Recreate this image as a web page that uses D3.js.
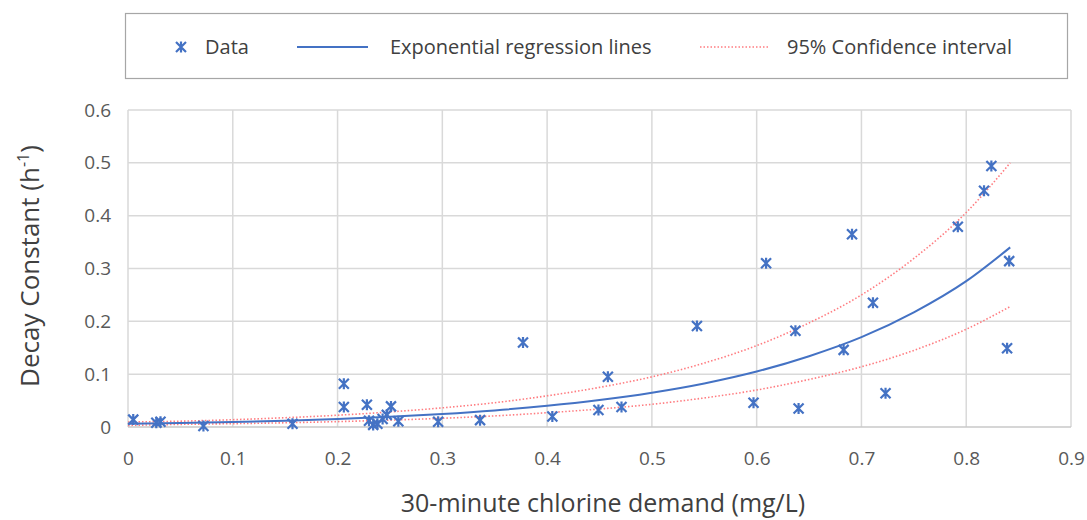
<!DOCTYPE html>
<html lang="en">
<head>
<meta charset="utf-8">
<title>Decay constant vs chlorine demand</title>
<script src="https://cdn.jsdelivr.net/npm/d3@7"></script>
<style>
  body { margin: 0; background: #ffffff; font-family: "Open Sans", sans-serif; }
  svg text { font-family: "Open Sans", sans-serif; }
</style>
</head>
<body>
<script>
// measured data (x = 30-minute chlorine demand, y = decay constant)
var demand = [0.005, 0.027, 0.031, 0.072, 0.157, 0.206, 0.206, 0.228, 0.230, 0.234, 0.238,
              0.243, 0.247, 0.251, 0.258, 0.296, 0.336, 0.377, 0.405, 0.449, 0.458, 0.471,
              0.543, 0.597, 0.609, 0.637, 0.640, 0.683, 0.691, 0.711, 0.723, 0.792, 0.817,
              0.824, 0.839, 0.841];
var decay  = [0.014, 0.008, 0.010, 0.002, 0.006, 0.082, 0.038, 0.042, 0.012, 0.004, 0.006,
              0.015, 0.023, 0.039, 0.011, 0.010, 0.013, 0.160, 0.020, 0.032, 0.095, 0.038,
              0.191, 0.046, 0.310, 0.182, 0.035, 0.146, 0.365, 0.235, 0.064, 0.379, 0.447,
              0.494, 0.149, 0.314];

// curves
var curveX   = [0, 0.05, 0.1, 0.15, 0.2, 0.25, 0.3, 0.35, 0.4, 0.45, 0.5, 0.55, 0.6, 0.65, 0.7, 0.75, 0.8, 0.842];
var regY     = [0.006, 0.0074, 0.0094, 0.012, 0.0152, 0.0194, 0.0247, 0.0314, 0.040, 0.051, 0.065, 0.0825, 0.105, 0.134, 0.170, 0.217, 0.276, 0.340];
var upperY   = [0.0095, 0.011, 0.0138, 0.0176, 0.0223, 0.0285, 0.0363, 0.046, 0.059, 0.075, 0.095, 0.121, 0.154, 0.197, 0.250, 0.319, 0.406, 0.500];
var lowerY   = [0.003, 0.005, 0.0063, 0.008, 0.0102, 0.013, 0.0165, 0.021, 0.027, 0.034, 0.043, 0.055, 0.070, 0.090, 0.114, 0.145, 0.185, 0.228];

var xTicks = [0, 0.1, 0.2, 0.3, 0.4, 0.5, 0.6, 0.7, 0.8, 0.9];
var yTicks = [0, 0.1, 0.2, 0.3, 0.4, 0.5, 0.6];

var legendLabels = ["Data", "Exponential regression lines", "95% Confidence interval"];

var w = 1087, h = 520;
var plotLeft = 128, plotRight = 1071, plotTop = 110, plotBottom = 427;

var blue = "#4472C4", red = "#FF7C80";

var svg = d3.select("body").append("svg")
  .attr("width", w)
  .attr("height", h);

var xScale = d3.scaleLinear().domain([0, 0.9]).range([plotLeft, plotRight]);
var yScale = d3.scaleLinear().domain([0, 0.6]).range([plotBottom, plotTop]);

// gridlines
svg.append("g")
  .selectAll("line")
  .data(xTicks)
  .enter().append("line")
  .attr("x1", function(d) { return xScale(d); })
  .attr("x2", function(d) { return xScale(d); })
  .attr("y1", plotTop).attr("y2", plotBottom)
  .attr("stroke", "#d9d9d9").attr("stroke-width", 1.5);

svg.append("g")
  .selectAll("line")
  .data(yTicks)
  .enter().append("line")
  .attr("x1", plotLeft).attr("x2", plotRight)
  .attr("y1", function(d) { return yScale(d); })
  .attr("y2", function(d) { return yScale(d); })
  .attr("stroke", function(d) { return d === 0 ? "#c8c8c8" : "#d9d9d9"; })
  .attr("stroke-width", 1.5);

// axes (labels only)
var fmt = function(d) { return String(+d.toFixed(1)); };
var xAxis = d3.axisBottom(xScale).tickValues(xTicks).tickSize(0).tickPadding(25).tickFormat(fmt);
var yAxis = d3.axisLeft(yScale).tickValues(yTicks).tickSize(0).tickPadding(17).tickFormat(fmt);

var gx = svg.append("g").attr("transform", "translate(0," + plotBottom + ")").call(xAxis);
var gy = svg.append("g").attr("transform", "translate(" + plotLeft + ",0)").call(yAxis);
[gx, gy].forEach(function(g) {
  g.select(".domain").remove();
  g.selectAll("text")
    .attr("font-size", 19)
    .attr("font-family", "Open Sans, sans-serif")
    .attr("fill", "#595959");
});

// curves
var line = d3.line()
  .x(function(d) { return xScale(d[0]); })
  .y(function(d) { return yScale(d[1]); })
  .curve(d3.curveMonotoneX);

function pairs(ys) { return curveX.map(function(x, i) { return [x, ys[i]]; }); }

svg.append("path").datum(pairs(upperY))
  .attr("d", line).attr("fill", "none")
  .attr("stroke", red).attr("stroke-width", 1.6).attr("stroke-dasharray", "1.5,2");
svg.append("path").datum(pairs(lowerY))
  .attr("d", line).attr("fill", "none")
  .attr("stroke", red).attr("stroke-width", 1.6).attr("stroke-dasharray", "1.5,2");
svg.append("path").datum(pairs(regY))
  .attr("d", line).attr("fill", "none")
  .attr("stroke", blue).attr("stroke-width", 2);

// star marker: X with vertical bar
function star(r) {
  return "M" + (-r) + "," + (-r) + "L" + r + "," + r +
         "M" + (-r) + "," + r + "L" + r + "," + (-r) +
         "M0," + (-r * 1.1) + "L0," + (r * 1.1);
}

svg.append("g")
  .selectAll("path")
  .data(demand.map(function(x, i) { return [x, decay[i]]; }))
  .enter().append("path")
  .attr("transform", function(d) { return "translate(" + xScale(d[0]) + "," + yScale(d[1]) + ")"; })
  .attr("d", star(5))
  .attr("fill", "none")
  .attr("stroke", blue)
  .attr("stroke-width", 2.2);

// axis titles
svg.append("text")
  .attr("x", 603)
  .attr("y", 512)
  .attr("text-anchor", "middle")
  .attr("font-size", 25)
  .attr("fill", "#404040")
  .text("30-minute chlorine demand (mg/L)");

var yt = svg.append("text")
  .attr("transform", "translate(39,266) rotate(-90)")
  .attr("text-anchor", "middle")
  .attr("font-size", 26)
  .attr("fill", "#404040");
yt.append("tspan").text("Decay Constant (h");
yt.append("tspan").attr("font-size", 16).attr("dy", -10).text("-1");
yt.append("tspan").attr("dy", 10).text(")");

// legend
var lg = svg.append("g");
lg.append("rect")
  .attr("x", 125.5).attr("y", 13.5)
  .attr("width", 942).attr("height", 65)
  .attr("fill", "#ffffff")
  .attr("stroke", "#a6a6a6").attr("stroke-width", 1.2);

var ly = 47;
lg.append("path")
  .attr("transform", "translate(181," + ly + ")")
  .attr("d", star(5))
  .attr("fill", "none").attr("stroke", blue).attr("stroke-width", 2.2);
lg.append("line")
  .attr("x1", 297).attr("x2", 368).attr("y1", ly).attr("y2", ly)
  .attr("stroke", blue).attr("stroke-width", 2);
lg.append("line")
  .attr("x1", 700).attr("x2", 770).attr("y1", ly).attr("y2", ly)
  .attr("stroke", red).attr("stroke-width", 1.6).attr("stroke-dasharray", "1.5,2");

var legendX = [205, 390, 787];
lg.selectAll("text")
  .data(legendLabels)
  .enter().append("text")
  .attr("x", function(d, i) { return legendX[i]; })
  .attr("y", ly + 7)
  .attr("font-size", 20)
  .attr("fill", "#404040")
  .text(function(d) { return d; });
</script>
</body>
</html>
